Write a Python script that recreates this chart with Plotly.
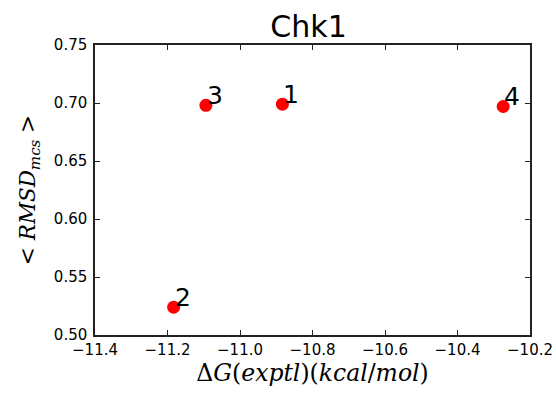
import plotly.graph_objects as go

dG = [-10.883, -11.183, -11.094, -10.274]
rmsd = [0.699, 0.524, 0.698, 0.697]
labels = ["1", "2", "3", "4"]
title = "Chk1"
x_ticks = [-11.4, -11.2, -11.0, -10.8, -10.6, -10.4, -10.2]
y_ticks = [0.50, 0.55, 0.60, 0.65, 0.70, 0.75]

fig = go.Figure()
fig.add_trace(go.Scatter(x=dG, y=rmsd, mode="markers",
                         marker=dict(color="#ff0000", size=13, line=dict(width=0)),
                         showlegend=False, hoverinfo="skip"))
for xv, yv, t in zip(dG, rmsd, labels):
    fig.add_annotation(x=xv, y=yv, text=t, showarrow=False, xanchor="left", yanchor="bottom",
                       xshift=-1, yshift=-7,
                       font=dict(family="DejaVu Sans", size=25, color="black"))

axis_common = dict(showgrid=False, zeroline=False, showline=True, linecolor="#222222", linewidth=1.5,
                   mirror="allticks", ticks="inside", ticklen=5, tickcolor="#222222", automargin=False,
                   tickfont=dict(family="DejaVu Sans", size=15, color="black"))
fig.update_xaxes(range=[-11.4, -10.2], tickvals=x_ticks, ticktext=[f"\u2212{abs(v):.1f}" for v in x_ticks],
                 title=dict(text="\u0394<i>G</i>(<i>exptl</i>)(<i>kcal</i>/<i>mol</i>)",
                            font=dict(family="DejaVu Serif", size=23.5, color="black"), standoff=7),
                 **axis_common)
fig.update_yaxes(range=[0.50, 0.75], tickvals=y_ticks, ticktext=[f"{v:.2f}" for v in y_ticks],
                 ticklabelstandoff=3,
                 title=dict(text="&lt; <i>RMSD</i><sub><i>mcs</i></sub> &gt;",
                            font=dict(family="DejaVu Serif", size=21.5, color="black"), standoff=12),
                 **axis_common)
fig.update_layout(width=556, height=393, margin=dict(l=95, r=26, t=45, b=58),
                  paper_bgcolor="white", plot_bgcolor="white",
                  title=dict(text=title, x=0.555, xanchor="center", y=0.932, yanchor="middle",
                             font=dict(family="DejaVu Sans", size=30, color="black")))
fig.write_html("out.html", config={"displayModeBar": False},
               post_script="document.body.style.margin='0';document.body.style.overflow='hidden';")
